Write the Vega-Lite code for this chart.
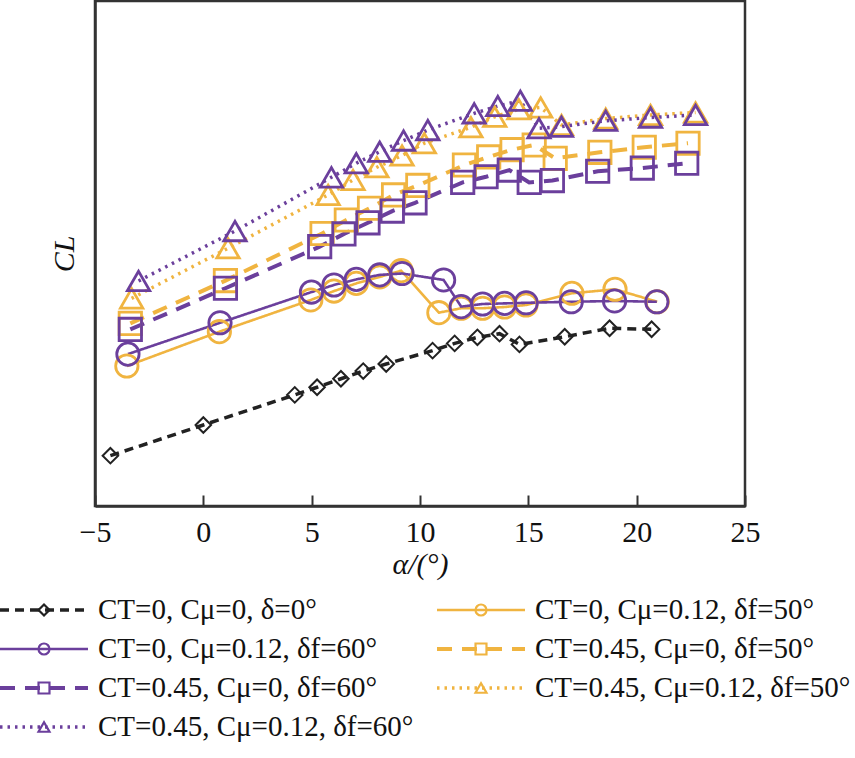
{
  "$schema": "https://vega.github.io/schema/vega-lite/v6.json",
  "width": 650,
  "height": 505,
  "autosize": "none",
  "padding": {"left": 95, "top": 1, "right": 110, "bottom": 252},
  "background": "white",
  "config": {
    "view": {"stroke": "#333333", "strokeWidth": 2.5},
    "font": "Liberation Serif",
    "legend": {
      "orient": "none",
      "direction": "vertical",
      "title": null,
      "padding": 0,
      "clipHeight": 29,
      "rowPadding": 9,
      "labelFont": "Liberation Serif",
      "labelFontSize": 29,
      "labelColor": "#111111",
      "labelLimit": 400
    }
  },
  "data": {
    "values": [
      {"series": "CT=0, Cμ=0.12, δf=50°", "alpha": -3.53, "CL": 0.693},
      {"series": "CT=0, Cμ=0.12, δf=50°", "alpha": 0.74, "CL": 0.863},
      {"series": "CT=0, Cμ=0.12, δf=50°", "alpha": 4.96, "CL": 1.02},
      {"series": "CT=0, Cμ=0.12, δf=50°", "alpha": 6.03, "CL": 1.064},
      {"series": "CT=0, Cμ=0.12, δf=50°", "alpha": 7.06, "CL": 1.102},
      {"series": "CT=0, Cμ=0.12, δf=50°", "alpha": 8.14, "CL": 1.134},
      {"series": "CT=0, Cμ=0.12, δf=50°", "alpha": 9.13, "CL": 1.165},
      {"series": "CT=0, Cμ=0.12, δf=50°", "alpha": 10.87, "CL": 0.957},
      {"series": "CT=0, Cμ=0.12, δf=50°", "alpha": 11.9, "CL": 0.979},
      {"series": "CT=0, Cμ=0.12, δf=50°", "alpha": 12.89, "CL": 0.979},
      {"series": "CT=0, Cμ=0.12, δf=50°", "alpha": 13.9, "CL": 0.985},
      {"series": "CT=0, Cμ=0.12, δf=50°", "alpha": 14.89, "CL": 0.995},
      {"series": "CT=0, Cμ=0.12, δf=50°", "alpha": 17.01, "CL": 1.053},
      {"series": "CT=0, Cμ=0.12, δf=50°", "alpha": 19.0, "CL": 1.073},
      {"series": "CT=0, Cμ=0.12, δf=50°", "alpha": 20.95, "CL": 1.011},
      {"series": "CT=0.45, Cμ=0, δf=50°", "alpha": -3.37, "CL": 0.904},
      {"series": "CT=0.45, Cμ=0, δf=50°", "alpha": 1.02, "CL": 1.116},
      {"series": "CT=0.45, Cμ=0, δf=50°", "alpha": 5.48, "CL": 1.349},
      {"series": "CT=0.45, Cμ=0, δf=50°", "alpha": 6.6, "CL": 1.416},
      {"series": "CT=0.45, Cμ=0, δf=50°", "alpha": 7.67, "CL": 1.474},
      {"series": "CT=0.45, Cμ=0, δf=50°", "alpha": 8.78, "CL": 1.54},
      {"series": "CT=0.45, Cμ=0, δf=50°", "alpha": 9.9, "CL": 1.587},
      {"series": "CT=0.45, Cμ=0, δf=50°", "alpha": 12.05, "CL": 1.688},
      {"series": "CT=0.45, Cμ=0, δf=50°", "alpha": 13.17, "CL": 1.728},
      {"series": "CT=0.45, Cμ=0, δf=50°", "alpha": 14.25, "CL": 1.764},
      {"series": "CT=0.45, Cμ=0, δf=50°", "alpha": 15.27, "CL": 1.787},
      {"series": "CT=0.45, Cμ=0, δf=50°", "alpha": 16.24, "CL": 1.721},
      {"series": "CT=0.45, Cμ=0, δf=50°", "alpha": 18.3, "CL": 1.751},
      {"series": "CT=0.45, Cμ=0, δf=50°", "alpha": 20.35, "CL": 1.776},
      {"series": "CT=0.45, Cμ=0, δf=50°", "alpha": 22.37, "CL": 1.796},
      {"series": "CT=0.45, Cμ=0.12, δf=50°", "alpha": -3.31, "CL": 1.028},
      {"series": "CT=0.45, Cμ=0.12, δf=50°", "alpha": 1.14, "CL": 1.276},
      {"series": "CT=0.45, Cμ=0.12, δf=50°", "alpha": 5.76, "CL": 1.54},
      {"series": "CT=0.45, Cμ=0.12, δf=50°", "alpha": 6.91, "CL": 1.614},
      {"series": "CT=0.45, Cμ=0.12, δf=50°", "alpha": 8.01, "CL": 1.677},
      {"series": "CT=0.45, Cμ=0.12, δf=50°", "alpha": 9.17, "CL": 1.735},
      {"series": "CT=0.45, Cμ=0.12, δf=50°", "alpha": 10.2, "CL": 1.796},
      {"series": "CT=0.45, Cμ=0.12, δf=50°", "alpha": 12.35, "CL": 1.875},
      {"series": "CT=0.45, Cμ=0.12, δf=50°", "alpha": 13.45, "CL": 1.927},
      {"series": "CT=0.45, Cμ=0.12, δf=50°", "alpha": 14.56, "CL": 1.964},
      {"series": "CT=0.45, Cμ=0.12, δf=50°", "alpha": 15.57, "CL": 1.973},
      {"series": "CT=0.45, Cμ=0.12, δf=50°", "alpha": 16.53, "CL": 1.886},
      {"series": "CT=0.45, Cμ=0.12, δf=50°", "alpha": 18.57, "CL": 1.918},
      {"series": "CT=0.45, Cμ=0.12, δf=50°", "alpha": 20.64, "CL": 1.936},
      {"series": "CT=0.45, Cμ=0.12, δf=50°", "alpha": 22.72, "CL": 1.948},
      {"series": "CT=0, Cμ=0, δ=0°", "alpha": -4.29, "CL": 0.249},
      {"series": "CT=0, Cμ=0, δ=0°", "alpha": 0.0, "CL": 0.401},
      {"series": "CT=0, Cμ=0, δ=0°", "alpha": 4.22, "CL": 0.55},
      {"series": "CT=0, Cμ=0, δ=0°", "alpha": 5.25, "CL": 0.588},
      {"series": "CT=0, Cμ=0, δ=0°", "alpha": 6.35, "CL": 0.63},
      {"series": "CT=0, Cμ=0, δ=0°", "alpha": 7.38, "CL": 0.668},
      {"series": "CT=0, Cμ=0, δ=0°", "alpha": 8.44, "CL": 0.703},
      {"series": "CT=0, Cμ=0, δ=0°", "alpha": 10.58, "CL": 0.769},
      {"series": "CT=0, Cμ=0, δ=0°", "alpha": 11.6, "CL": 0.805},
      {"series": "CT=0, Cμ=0, δ=0°", "alpha": 12.65, "CL": 0.835},
      {"series": "CT=0, Cμ=0, δ=0°", "alpha": 13.67, "CL": 0.853},
      {"series": "CT=0, Cμ=0, δ=0°", "alpha": 14.59, "CL": 0.8},
      {"series": "CT=0, Cμ=0, δ=0°", "alpha": 16.68, "CL": 0.838},
      {"series": "CT=0, Cμ=0, δ=0°", "alpha": 18.75, "CL": 0.88},
      {"series": "CT=0, Cμ=0, δ=0°", "alpha": 20.69, "CL": 0.875},
      {"series": "CT=0, Cμ=0.12, δf=60°", "alpha": -3.48, "CL": 0.752},
      {"series": "CT=0, Cμ=0.12, δf=60°", "alpha": 0.77, "CL": 0.907},
      {"series": "CT=0, Cμ=0.12, δf=60°", "alpha": 4.99, "CL": 1.059},
      {"series": "CT=0, Cμ=0.12, δf=60°", "alpha": 6.03, "CL": 1.094},
      {"series": "CT=0, Cμ=0.12, δf=60°", "alpha": 7.06, "CL": 1.122},
      {"series": "CT=0, Cμ=0.12, δf=60°", "alpha": 8.14, "CL": 1.144},
      {"series": "CT=0, Cμ=0.12, δf=60°", "alpha": 9.17, "CL": 1.151},
      {"series": "CT=0, Cμ=0.12, δf=60°", "alpha": 11.09, "CL": 1.119},
      {"series": "CT=0, Cμ=0.12, δf=60°", "alpha": 11.9, "CL": 0.987},
      {"series": "CT=0, Cμ=0.12, δf=60°", "alpha": 12.89, "CL": 1.0},
      {"series": "CT=0, Cμ=0.12, δf=60°", "alpha": 13.9, "CL": 1.003},
      {"series": "CT=0, Cμ=0.12, δf=60°", "alpha": 14.9, "CL": 1.006},
      {"series": "CT=0, Cμ=0.12, δf=60°", "alpha": 16.98, "CL": 1.011},
      {"series": "CT=0, Cμ=0.12, δf=60°", "alpha": 18.98, "CL": 1.015},
      {"series": "CT=0, Cμ=0.12, δf=60°", "alpha": 20.93, "CL": 1.011},
      {"series": "CT=0.45, Cμ=0, δf=60°", "alpha": -3.37, "CL": 0.874},
      {"series": "CT=0.45, Cμ=0, δf=60°", "alpha": 1.02, "CL": 1.078},
      {"series": "CT=0.45, Cμ=0, δf=60°", "alpha": 5.37, "CL": 1.284},
      {"series": "CT=0.45, Cμ=0, δf=60°", "alpha": 6.49, "CL": 1.347},
      {"series": "CT=0.45, Cμ=0, δf=60°", "alpha": 7.6, "CL": 1.402},
      {"series": "CT=0.45, Cμ=0, δf=60°", "alpha": 8.72, "CL": 1.46},
      {"series": "CT=0.45, Cμ=0, δf=60°", "alpha": 9.77, "CL": 1.501},
      {"series": "CT=0.45, Cμ=0, δf=60°", "alpha": 11.97, "CL": 1.602},
      {"series": "CT=0.45, Cμ=0, δf=60°", "alpha": 13.05, "CL": 1.63},
      {"series": "CT=0.45, Cμ=0, δf=60°", "alpha": 14.12, "CL": 1.663},
      {"series": "CT=0.45, Cμ=0, δf=60°", "alpha": 15.04, "CL": 1.602},
      {"series": "CT=0.45, Cμ=0, δf=60°", "alpha": 16.11, "CL": 1.611},
      {"series": "CT=0.45, Cμ=0, δf=60°", "alpha": 18.2, "CL": 1.657},
      {"series": "CT=0.45, Cμ=0, δf=60°", "alpha": 20.26, "CL": 1.673},
      {"series": "CT=0.45, Cμ=0, δf=60°", "alpha": 22.31, "CL": 1.697},
      {"series": "CT=0.45, Cμ=0.12, δf=60°", "alpha": -2.99, "CL": 1.114},
      {"series": "CT=0.45, Cμ=0.12, δf=60°", "alpha": 1.46, "CL": 1.361},
      {"series": "CT=0.45, Cμ=0.12, δf=60°", "alpha": 5.91, "CL": 1.627},
      {"series": "CT=0.45, Cμ=0.12, δf=60°", "alpha": 7.06, "CL": 1.697},
      {"series": "CT=0.45, Cμ=0.12, δf=60°", "alpha": 8.14, "CL": 1.754},
      {"series": "CT=0.45, Cμ=0.12, δf=60°", "alpha": 9.24, "CL": 1.809},
      {"series": "CT=0.45, Cμ=0.12, δf=60°", "alpha": 10.36, "CL": 1.861},
      {"series": "CT=0.45, Cμ=0.12, δf=60°", "alpha": 12.5, "CL": 1.944},
      {"series": "CT=0.45, Cμ=0.12, δf=60°", "alpha": 13.59, "CL": 1.98},
      {"series": "CT=0.45, Cμ=0.12, δf=60°", "alpha": 14.63, "CL": 2.006},
      {"series": "CT=0.45, Cμ=0.12, δf=60°", "alpha": 15.49, "CL": 1.87},
      {"series": "CT=0.45, Cμ=0.12, δf=60°", "alpha": 16.53, "CL": 1.878},
      {"series": "CT=0.45, Cμ=0.12, δf=60°", "alpha": 18.57, "CL": 1.907},
      {"series": "CT=0.45, Cμ=0.12, δf=60°", "alpha": 20.64, "CL": 1.923},
      {"series": "CT=0.45, Cμ=0.12, δf=60°", "alpha": 22.72, "CL": 1.936}
    ]
  },
  "encoding": {
    "x": {
      "field": "alpha",
      "type": "quantitative",
      "scale": {"domain": [-5, 25], "nice": false, "zero": false},
      "axis": {
        "values": [-5, 0, 5, 10, 15, 20, 25],
        "title": "α/(°)",
        "titleFont": "Liberation Serif",
        "titleFontSize": 30,
        "titleFontStyle": "italic",
        "titleFontWeight": "normal",
        "titleColor": "#111111",
        "titlePadding": 2,
        "labelFont": "Liberation Serif",
        "labelFontSize": 30,
        "labelColor": "#111111",
        "labelPadding": 22,
        "labelFlush": false,
        "grid": false,
        "domainColor": "#333333",
        "domainWidth": 2.5,
        "tickColor": "#333333",
        "tickWidth": 2,
        "tickSize": -11
      }
    },
    "y": {
      "field": "CL",
      "type": "quantitative",
      "scale": {"domain": [0, 2.5], "nice": false},
      "axis": {
        "title": "CL",
        "titleFont": "Liberation Serif",
        "titleFontSize": 30,
        "titleFontStyle": "italic",
        "titleFontWeight": "normal",
        "titleColor": "#111111",
        "titlePadding": 16,
        "labels": false,
        "ticks": false,
        "grid": false,
        "domainColor": "#333333",
        "domainWidth": 2.5
      }
    },
    "color": {
      "field": "series",
      "type": "nominal",
      "scale": {
        "domain": ["CT=0, Cμ=0, δ=0°", "CT=0, Cμ=0.12, δf=60°", "CT=0.45, Cμ=0, δf=60°", "CT=0.45, Cμ=0.12, δf=60°", "CT=0, Cμ=0.12, δf=50°", "CT=0.45, Cμ=0, δf=50°", "CT=0.45, Cμ=0.12, δf=50°"],
        "range": ["#222222", "#6b3f9c", "#6b3f9c", "#6b3f9c", "#f0b440", "#f0b440", "#f0b440"]
      }
    }
  },
  "layer": [
    {
      "transform": [{"filter": {"field": "series", "oneOf": ["CT=0, Cμ=0.12, δf=50°", "CT=0.45, Cμ=0, δf=50°", "CT=0.45, Cμ=0.12, δf=50°"]}}],
      "mark": {"type": "line", "strokeCap": "butt"},
      "encoding": {
        "color": {
          "field": "series",
          "type": "nominal",
          "legend": {
            "values": ["CT=0, Cμ=0.12, δf=50°", "CT=0.45, Cμ=0, δf=50°", "CT=0.45, Cμ=0.12, δf=50°"],
            "legendX": 342,
            "legendY": 594.5,
            "symbolType": "stroke",
            "symbolSize": 7744,
            "symbolOffset": -2,
            "labelOffset": 8
          }
        },
        "strokeDash": {
          "field": "series",
          "type": "nominal",
          "scale": {
            "domain": ["CT=0, Cμ=0, δ=0°", "CT=0, Cμ=0.12, δf=60°", "CT=0.45, Cμ=0, δf=60°", "CT=0.45, Cμ=0.12, δf=60°", "CT=0, Cμ=0.12, δf=50°", "CT=0.45, Cμ=0, δf=50°", "CT=0.45, Cμ=0.12, δf=50°"],
            "range": [[9, 6], [1, 0], [15, 10], [2.5, 5], [1, 0], [15, 10], [2.5, 5]]
          }
        },
        "strokeWidth": {
          "field": "series",
          "type": "nominal",
          "scale": {
            "type": "ordinal",
            "domain": ["CT=0, Cμ=0, δ=0°", "CT=0, Cμ=0.12, δf=60°", "CT=0.45, Cμ=0, δf=60°", "CT=0.45, Cμ=0.12, δf=60°", "CT=0, Cμ=0.12, δf=50°", "CT=0.45, Cμ=0, δf=50°", "CT=0.45, Cμ=0.12, δf=50°"],
            "range": [3.5, 2.6, 4, 3.5, 2.6, 4, 3.5]
          }
        }
      }
    },
    {
      "transform": [{"filter": {"field": "series", "oneOf": ["CT=0, Cμ=0, δ=0°", "CT=0, Cμ=0.12, δf=60°", "CT=0.45, Cμ=0, δf=60°", "CT=0.45, Cμ=0.12, δf=60°"]}}],
      "mark": {"type": "line", "strokeCap": "butt"},
      "encoding": {
        "color": {
          "field": "series",
          "type": "nominal",
          "legend": {
            "values": ["CT=0, Cμ=0, δ=0°", "CT=0, Cμ=0.12, δf=60°", "CT=0.45, Cμ=0, δf=60°", "CT=0.45, Cμ=0.12, δf=60°"],
            "legendX": -95,
            "legendY": 594.5,
            "symbolType": "stroke",
            "symbolSize": 7744,
            "symbolOffset": -2,
            "labelOffset": 8
          }
        },
        "strokeDash": {
          "field": "series",
          "type": "nominal",
          "scale": {
            "domain": ["CT=0, Cμ=0, δ=0°", "CT=0, Cμ=0.12, δf=60°", "CT=0.45, Cμ=0, δf=60°", "CT=0.45, Cμ=0.12, δf=60°", "CT=0, Cμ=0.12, δf=50°", "CT=0.45, Cμ=0, δf=50°", "CT=0.45, Cμ=0.12, δf=50°"],
            "range": [[9, 6], [1, 0], [15, 10], [2.5, 5], [1, 0], [15, 10], [2.5, 5]]
          }
        },
        "strokeWidth": {
          "field": "series",
          "type": "nominal",
          "scale": {
            "type": "ordinal",
            "domain": ["CT=0, Cμ=0, δ=0°", "CT=0, Cμ=0.12, δf=60°", "CT=0.45, Cμ=0, δf=60°", "CT=0.45, Cμ=0.12, δf=60°", "CT=0, Cμ=0.12, δf=50°", "CT=0.45, Cμ=0, δf=50°", "CT=0.45, Cμ=0.12, δf=50°"],
            "range": [3.5, 2.6, 4, 3.5, 2.6, 4, 3.5]
          }
        }
      }
    },
    {
      "transform": [{"filter": {"field": "series", "oneOf": ["CT=0, Cμ=0.12, δf=50°", "CT=0.45, Cμ=0, δf=50°", "CT=0.45, Cμ=0.12, δf=50°"]}}],
      "mark": {"type": "point", "filled": false, "size": 500, "strokeWidth": 2.8, "opacity": 1},
      "encoding": {
        "color": {
          "field": "series",
          "type": "nominal",
          "legend": {
            "values": ["CT=0, Cμ=0.12, δf=50°", "CT=0.45, Cμ=0, δf=50°", "CT=0.45, Cμ=0.12, δf=50°"],
            "legendX": 342,
            "legendY": 594.5,
            "symbolSize": 120,
            "symbolStrokeWidth": 2.2,
            "symbolOffset": 29.5,
            "labelExpr": "''",
            "labelOffset": 0
          }
        },
        "shape": {
          "field": "series",
          "type": "nominal",
          "scale": {
            "domain": ["CT=0, Cμ=0, δ=0°", "CT=0, Cμ=0.12, δf=60°", "CT=0.45, Cμ=0, δf=60°", "CT=0.45, Cμ=0.12, δf=60°", "CT=0, Cμ=0.12, δf=50°", "CT=0.45, Cμ=0, δf=50°", "CT=0.45, Cμ=0.12, δf=50°"],
            "range": ["diamond", "circle", "square", "triangle-up", "circle", "square", "triangle-up"]
          }
        }
      }
    },
    {
      "transform": [{"filter": {"field": "series", "oneOf": ["CT=0, Cμ=0.12, δf=60°", "CT=0.45, Cμ=0, δf=60°", "CT=0.45, Cμ=0.12, δf=60°"]}}],
      "mark": {"type": "point", "filled": false, "size": 500, "strokeWidth": 2.8, "opacity": 1},
      "encoding": {
        "color": {
          "field": "series",
          "type": "nominal",
          "legend": {
            "values": ["CT=0, Cμ=0, δ=0°", "CT=0, Cμ=0.12, δf=60°", "CT=0.45, Cμ=0, δf=60°", "CT=0.45, Cμ=0.12, δf=60°"],
            "legendX": -95,
            "legendY": 594.5,
            "symbolSize": 120,
            "symbolStrokeWidth": 2.2,
            "symbolOffset": 29.5,
            "labelExpr": "''",
            "labelOffset": 0
          }
        },
        "shape": {
          "field": "series",
          "type": "nominal",
          "scale": {
            "domain": ["CT=0, Cμ=0, δ=0°", "CT=0, Cμ=0.12, δf=60°", "CT=0.45, Cμ=0, δf=60°", "CT=0.45, Cμ=0.12, δf=60°", "CT=0, Cμ=0.12, δf=50°", "CT=0.45, Cμ=0, δf=50°", "CT=0.45, Cμ=0.12, δf=50°"],
            "range": ["diamond", "circle", "square", "triangle-up", "circle", "square", "triangle-up"]
          }
        }
      }
    },
    {
      "transform": [{"filter": {"field": "series", "equal": "CT=0, Cμ=0, δ=0°"}}],
      "mark": {"type": "point", "shape": "diamond", "filled": false, "size": 240, "strokeWidth": 2, "color": "#222222", "opacity": 1},
      "encoding": {"color": {"value": "#222222"}}
    }
  ],
  "resolve": {"legend": {"color": "independent", "shape": "independent", "strokeDash": "independent", "strokeWidth": "independent"}}
}
